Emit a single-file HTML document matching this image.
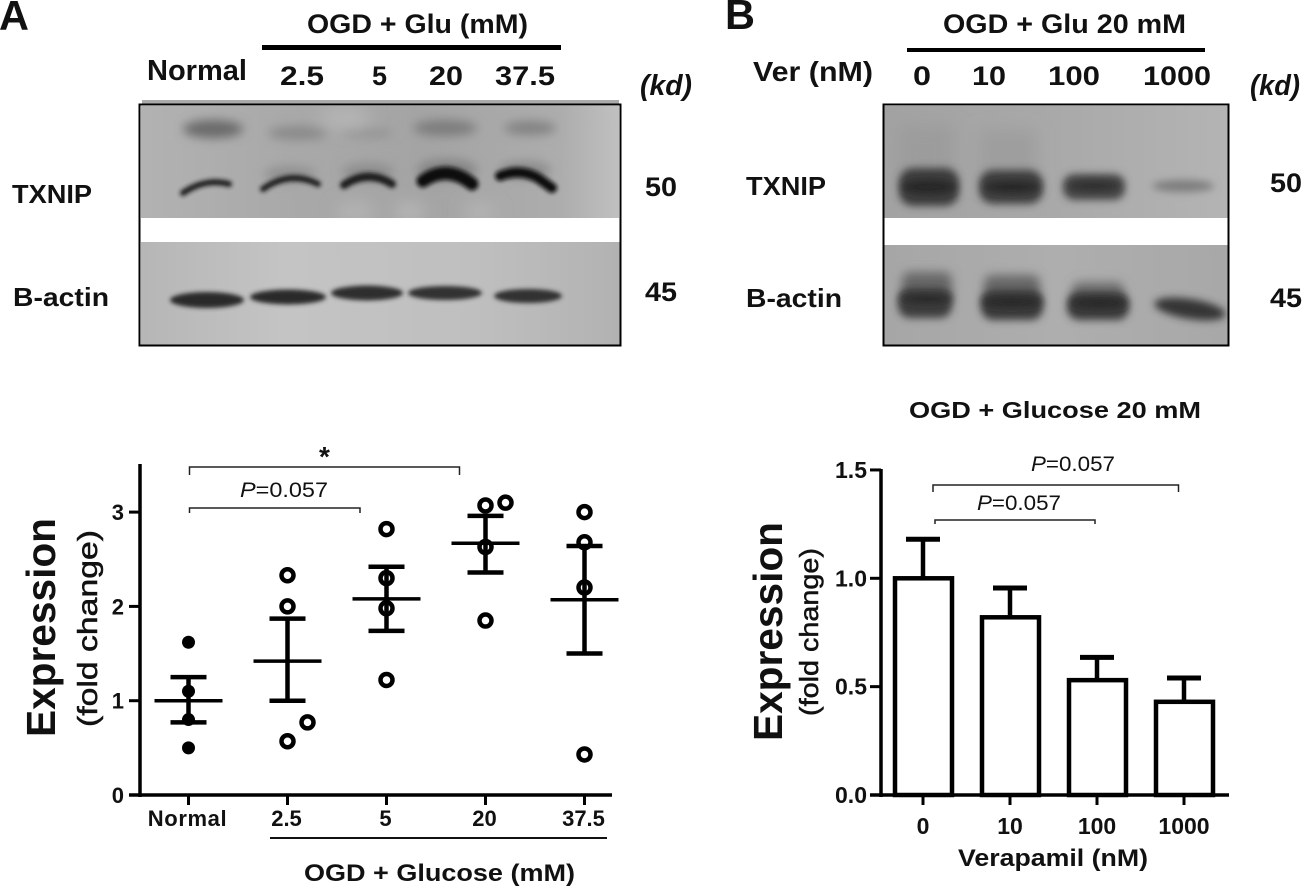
<!DOCTYPE html>
<html>
<head>
<meta charset="utf-8">
<title>TXNIP expression figure</title>
<style>
html,body{margin:0;padding:0;background:#fff;}
#fig{display:block;width:1306px;height:889px;}
text{font-family:"Liberation Sans",sans-serif;fill:#111;}
.b{font-weight:700;}
</style>
</head>
<body>
<svg id="fig" xmlns="http://www.w3.org/2000/svg" width="1306" height="889" viewBox="0 0 1306 889">
<defs>
  <filter id="bl3" x="-30%" y="-80%" width="160%" height="260%"><feGaussianBlur stdDeviation="4"/></filter>
  <filter id="bl2" x="-30%" y="-80%" width="160%" height="260%"><feGaussianBlur stdDeviation="2.2"/></filter>
  <filter id="bl5" x="-30%" y="-80%" width="160%" height="260%"><feGaussianBlur stdDeviation="5"/></filter>
  <filter id="bl8" x="-30%" y="-80%" width="160%" height="260%"><feGaussianBlur stdDeviation="8"/></filter>
  <linearGradient id="lt" x1="0" y1="0" x2="1" y2="0">
    <stop offset="0" stop-color="#b2b2b2"/><stop offset=".3" stop-color="#a9a9a9"/><stop offset=".6" stop-color="#a4a4a4"/><stop offset=".88" stop-color="#adadad"/><stop offset="1" stop-color="#c0c0c0"/>
  </linearGradient>
  <linearGradient id="ll" x1="0" y1="0" x2="1" y2="0">
    <stop offset="0" stop-color="#b6b6b6"/><stop offset=".3" stop-color="#c4c4c4"/><stop offset=".7" stop-color="#bfbfbf"/><stop offset="1" stop-color="#b2b2b2"/>
  </linearGradient>
  <linearGradient id="rt" x1="0" y1="0" x2="1" y2="0">
    <stop offset="0" stop-color="#a2a2a2"/><stop offset=".5" stop-color="#a9a9a9"/><stop offset="1" stop-color="#b4b4b4"/>
  </linearGradient>
  <linearGradient id="rl" x1="0" y1="0" x2="1" y2="0">
    <stop offset="0" stop-color="#a6a6a6"/><stop offset=".5" stop-color="#aeaeae"/><stop offset="1" stop-color="#a8a8a8"/>
  </linearGradient>
  <clipPath id="clipAT"><rect x="141" y="106" width="478" height="112"/></clipPath>
  <clipPath id="clipBT"><rect x="884" y="106" width="344" height="112"/></clipPath>
  <clipPath id="clipBL"><rect x="884" y="245" width="344" height="100"/></clipPath>
</defs>

<!-- Panel A header -->
<text class="b" x="-1" y="30" font-size="42" textLength="30" lengthAdjust="spacingAndGlyphs">A</text>
<text class="b" x="307" y="33" font-size="27" textLength="221" lengthAdjust="spacingAndGlyphs">OGD + Glu (mM)</text>
<rect x="262" y="45" width="299" height="5" fill="#000"/>
<text class="b" x="147" y="80" font-size="29" textLength="100" lengthAdjust="spacingAndGlyphs">Normal</text>
<text class="b" x="280" y="85" font-size="27" textLength="44" lengthAdjust="spacingAndGlyphs">2.5</text>
<text class="b" x="372" y="85" font-size="27" textLength="15" lengthAdjust="spacingAndGlyphs">5</text>
<text class="b" x="429" y="85" font-size="27" textLength="34" lengthAdjust="spacingAndGlyphs">20</text>
<text class="b" x="495" y="85" font-size="27" textLength="60" lengthAdjust="spacingAndGlyphs">37.5</text>
<text class="b" x="640" y="95" font-size="29" font-style="italic" textLength="52" lengthAdjust="spacingAndGlyphs">(kd)</text>

<!-- Blot A -->
<g>
  <rect x="142" y="100" width="477" height="5" fill="#aaa"/>
  <rect x="141" y="106" width="478" height="112" fill="url(#lt)"/>
  <rect x="141" y="242" width="479" height="103" fill="url(#ll)"/>
  <g filter="url(#bl5)" clip-path="url(#clipAT)">
    <ellipse cx="213" cy="129" rx="30" ry="9" fill="#6a6a6a"/>
    <ellipse cx="298" cy="133" rx="30" ry="7" fill="#8a8a8a"/>
    <ellipse cx="368" cy="133" rx="26" ry="5" fill="#949494"/>
    <ellipse cx="445" cy="128" rx="32" ry="8" fill="#7d7d7d"/>
    <ellipse cx="530" cy="128" rx="26" ry="7" fill="#828282"/>
    <ellipse cx="447" cy="170" rx="30" ry="11" fill="#858585"/>
    <ellipse cx="368" cy="172" rx="26" ry="9" fill="#8e8e8e"/>
    <ellipse cx="290" cy="174" rx="26" ry="8" fill="#919191"/>
    <ellipse cx="525" cy="170" rx="26" ry="9" fill="#8c8c8c"/>
  </g>
  <g filter="url(#bl8)" clip-path="url(#clipAT)">
    <ellipse cx="345" cy="118" rx="26" ry="10" fill="#b6b6b6"/>
    <ellipse cx="355" cy="212" rx="20" ry="10" fill="#b4b4b4"/>
    <ellipse cx="410" cy="212" rx="16" ry="10" fill="#b6b6b6"/>
    <ellipse cx="480" cy="212" rx="16" ry="10" fill="#b4b4b4"/>
  </g>
  <g fill="none" stroke-linecap="round" filter="url(#bl2)" clip-path="url(#clipAT)">
    <path d="M183 193 Q205 178 229 184" stroke="#1e1e1e" stroke-width="6"/>
    <path d="M263 189 Q290 170 318 184" stroke="#1e1e1e" stroke-width="6"/>
    <path d="M344 185 Q368 169 392 184" stroke="#1a1a1a" stroke-width="8"/>
    <path d="M423 181 Q447 164 472 184" stroke="#111" stroke-width="13"/>
    <path d="M500 176 Q520 168 538 178 L552 188" stroke="#111" stroke-width="10"/>
  </g>
  <g filter="url(#bl2)">
    <ellipse cx="207" cy="300" rx="37" ry="8" fill="#2a2a2a"/>
    <ellipse cx="288" cy="297" rx="38" ry="7.500" fill="#2c2c2c"/>
    <ellipse cx="367" cy="293" rx="36" ry="7.500" fill="#2e2e2e"/>
    <ellipse cx="445" cy="293" rx="37" ry="7" fill="#323232"/>
    <ellipse cx="528" cy="296" rx="34" ry="7" fill="#323232"/>
  </g>
  <rect x="139.500" y="104.500" width="481" height="241" fill="none" stroke="#000" stroke-width="2"/>
</g>
<text class="b" x="12" y="203" font-size="26" textLength="80" lengthAdjust="spacingAndGlyphs">TXNIP</text>
<text class="b" x="13" y="306" font-size="26" textLength="96" lengthAdjust="spacingAndGlyphs">B-actin</text>
<text class="b" x="645" y="196" font-size="27" textLength="32" lengthAdjust="spacingAndGlyphs">50</text>
<text class="b" x="645" y="301" font-size="27" textLength="32" lengthAdjust="spacingAndGlyphs">45</text>

<!-- Panel B header -->
<text class="b" x="725" y="29" font-size="42" textLength="30" lengthAdjust="spacingAndGlyphs">B</text>
<text class="b" x="943" y="33" font-size="27" textLength="243" lengthAdjust="spacingAndGlyphs">OGD + Glu 20 mM</text>
<rect x="907" y="48" width="298" height="4" fill="#000"/>
<text class="b" x="753" y="81" font-size="28" textLength="120" lengthAdjust="spacingAndGlyphs">Ver (nM)</text>
<text class="b" x="913" y="85" font-size="27" textLength="18" lengthAdjust="spacingAndGlyphs">0</text>
<text class="b" x="972" y="85" font-size="27" textLength="34" lengthAdjust="spacingAndGlyphs">10</text>
<text class="b" x="1048" y="85" font-size="27" textLength="52" lengthAdjust="spacingAndGlyphs">100</text>
<text class="b" x="1143" y="85" font-size="27" textLength="68" lengthAdjust="spacingAndGlyphs">1000</text>
<text class="b" x="1250" y="95" font-size="29" font-style="italic" textLength="50" lengthAdjust="spacingAndGlyphs">(kd)</text>

<!-- Blot B -->
<g>
  <rect x="884" y="106" width="344" height="112" fill="url(#rt)"/>
  <rect x="884" y="245" width="344" height="100" fill="url(#rl)"/>
  <g filter="url(#bl8)" clip-path="url(#clipBT)">
    <rect x="898" y="125" width="56" height="60" fill="#9c9c9c"/>
    <rect x="980" y="130" width="56" height="55" fill="#9e9e9e"/>
  </g>
  <g filter="url(#bl3)" clip-path="url(#clipBT)">
    <rect x="899" y="168" width="60" height="38" rx="14" fill="#3c3c3c"/>
    <rect x="979" y="170" width="64" height="34" rx="14" fill="#404040"/>
    <rect x="1063" y="174" width="62" height="26" rx="11" fill="#474747"/>
    <ellipse cx="1183" cy="186" rx="31" ry="6" fill="#7d7d7d"/>
  </g>
  <g filter="url(#bl5)" clip-path="url(#clipBL)">
    <rect x="902" y="272" width="50" height="30" rx="8" fill="#686868"/>
    <rect x="984" y="275" width="56" height="30" rx="8" fill="#686868"/>
    <rect x="1072" y="282" width="52" height="24" rx="8" fill="#707070"/>
  </g>
  <g filter="url(#bl3)" clip-path="url(#clipBL)">
    <rect x="898" y="288" width="54" height="30" rx="12" fill="#3e3e3e"/>
    <rect x="981" y="290" width="62" height="30" rx="12" fill="#3a3a3a"/>
    <rect x="1067" y="292" width="62" height="28" rx="12" fill="#3a3a3a"/>
    <ellipse cx="1190" cy="309" rx="36" ry="10" fill="#363636" transform="rotate(9 1190 309)"/>
  </g>
  <g filter="url(#bl3)">
    <ellipse cx="929" cy="187" rx="27" ry="7" fill="#262626"/>
    <ellipse cx="1012" cy="187" rx="28" ry="6" fill="#282828"/>
    <ellipse cx="1094" cy="186" rx="26" ry="5" fill="#2d2d2d"/>
    <ellipse cx="926" cy="299" rx="26" ry="4" fill="#262626"/>
    <ellipse cx="1012" cy="302" rx="30" ry="5" fill="#262626"/>
    <ellipse cx="1099" cy="303" rx="28" ry="5" fill="#262626"/>
  </g>
  <rect x="883.500" y="104.500" width="345" height="241" fill="none" stroke="#000" stroke-width="2"/>
</g>
<text class="b" x="746" y="195" font-size="26" textLength="80" lengthAdjust="spacingAndGlyphs">TXNIP</text>
<text class="b" x="746" y="307" font-size="26" textLength="96" lengthAdjust="spacingAndGlyphs">B-actin</text>
<text class="b" x="1270" y="192" font-size="27" textLength="32" lengthAdjust="spacingAndGlyphs">50</text>
<text class="b" x="1270" y="307" font-size="27" textLength="32" lengthAdjust="spacingAndGlyphs">45</text>

<!-- Static chart labels -->
<text class="b" transform="translate(55,737) rotate(-90)" font-size="41" textLength="219" lengthAdjust="spacingAndGlyphs">Expression</text>
<text transform="translate(97,727) rotate(-90)" font-size="28" stroke="#111" stroke-width=".5" textLength="197" lengthAdjust="spacingAndGlyphs">(fold change)</text>
<rect x="270" y="837" width="337" height="2" fill="#111"/>
<text class="b" x="304" y="881" font-size="24" textLength="271" lengthAdjust="spacingAndGlyphs">OGD + Glucose (mM)</text>
<text class="b" x="319" y="466" font-size="28">*</text>
<text x="240" y="497" font-size="21" textLength="88" lengthAdjust="spacingAndGlyphs"><tspan font-style="italic">P</tspan>=0.057</text>

<text class="b" x="909" y="418" font-size="23" textLength="292" lengthAdjust="spacingAndGlyphs">OGD + Glucose 20 mM</text>
<text class="b" transform="translate(782,741) rotate(-90)" font-size="41" textLength="219" lengthAdjust="spacingAndGlyphs">Expression</text>
<text transform="translate(818,716) rotate(-90)" font-size="26" stroke="#111" stroke-width=".5" textLength="168" lengthAdjust="spacingAndGlyphs">(fold change)</text>
<text class="b" x="958" y="866" font-size="24" textLength="190" lengthAdjust="spacingAndGlyphs">Verapamil (nM)</text>
<text x="1031" y="471" font-size="21" textLength="84" lengthAdjust="spacingAndGlyphs"><tspan font-style="italic">P</tspan>=0.057</text>
<text x="977" y="510" font-size="21" textLength="84" lengthAdjust="spacingAndGlyphs"><tspan font-style="italic">P</tspan>=0.057</text>

<g id="chartA"></g>
<g id="chartB"></g>
</svg>

<script>
// Scatter chart (panel A)
var scatterCategories = ['Normal', '2.5', '5', '20', '37.5'];
var scatterTicks = [0, 1, 2, 3];
var scatterPoints = [
  [1.62, 1.10, 0.80, 0.50],
  [2.33, 2.00, 0.77, 0.57],
  [2.82, 2.30, 1.98, 1.22],
  [3.07, 3.10, 2.63, 1.85],
  [3.00, 2.68, 2.20, 0.43]
];
var scatterMeans = [1.00, 1.42, 2.08, 2.67, 2.07];
var scatterUpper = [1.25, 1.87, 2.42, 2.96, 2.64];
var scatterLower = [0.77, 1.00, 1.74, 2.36, 1.50];

// Bar chart (panel B)
var barCategories = ['0', '10', '100', '1000'];
var barTicks = ['0.0', '0.5', '1.0', '1.5'];
var barValues = [1.00, 0.82, 0.53, 0.43];
var barErrorTops = [1.18, 0.955, 0.635, 0.54];

var NS = 'http://www.w3.org/2000/svg';
function mk(parent, tag, attrs) {
  var el = document.createElementNS(NS, tag);
  for (var k in attrs) el.setAttribute(k, attrs[k]);
  parent.appendChild(el);
  return el;
}
function ln(parent, x1, y1, x2, y2, w) {
  return mk(parent, 'line', {x1: x1, y1: y1, x2: x2, y2: y2, stroke: '#000', 'stroke-width': w});
}

// ---- Panel A ----
var gA = document.getElementById('chartA');
function ax(i) { return 188.5 + i * 99; }
function ay(v) { return 795 - v * 94.3; }

var aYAxis = ln(gA, 140, 464, 140, 797, 3.500);


var aXAxis = ln(gA, 129, ay(0), 612, ay(0), 3.500);



scatterTicks.forEach(function (t) {
  var tick = ln(gA, 129, ay(t), 140, ay(t), 3);
  
  
  var lab = mk(gA, 'text', {x: 124, y: ay(t) + 8, 'font-size': 22, 'text-anchor': 'end', 'class': 'b'});
  lab.textContent = t;
  
  
});

scatterCategories.forEach(function (c, i) {
  var tick = ln(gA, ax(i), ay(0), ax(i), ay(0) + 10, 3);
  
  
  var lab = mk(gA, 'text', {x: ax(i) - 1, y: 826, 'font-size': 22, 'text-anchor': 'middle', 'class': 'b', 'letter-spacing': i === 0 ? '0.6' : '0'});
  lab.textContent = c;
  
  

  var err = mk(gA, 'g', {});
  
  
  ln(err, ax(i), ay(scatterUpper[i]), ax(i), ay(scatterLower[i]), 4.500);
  ln(err, ax(i) - 18, ay(scatterUpper[i]), ax(i) + 18, ay(scatterUpper[i]), 4.500);
  ln(err, ax(i) - 18, ay(scatterLower[i]), ax(i) + 18, ay(scatterLower[i]), 4.500);

  var mean = ln(gA, ax(i) - 34, ay(scatterMeans[i]), ax(i) + 34, ay(scatterMeans[i]), 3.500);
  
  

  scatterPoints[i].forEach(function (v, j) {
    var dx = 0;
    if (i === 1 && j === 2) dx = 20;
    if (i === 3 && j === 1) dx = 20;
    var filled = i === 0;
    var pt = mk(gA, 'circle', {
      cx: ax(i) + dx,
      cy: ay(v),
      r: filled ? 6.5 : 6,
      fill: filled ? '#000' : 'none',
      stroke: '#000',
      'stroke-width': filled ? 0 : 4.500
    });
    
    
  });
});

var aBr1 = mk(gA, 'path', {d: 'M189.500 475 V467 H459.500 V475', fill: 'none', stroke: '#222', 'stroke-width': 1.500});


var aBr2 = mk(gA, 'path', {d: 'M189.500 513 V508 H360 V513', fill: 'none', stroke: '#222', 'stroke-width': 1.500});



// ---- Panel B ----
var gB = document.getElementById('chartB');
function bx(i) { return 923 + i * 87; }
function by(v) { return 795 - v * 216.7; }

barCategories.forEach(function (c, i) {
  var h = by(barValues[i]);
  var err = mk(gB, 'g', {});
  
  
  ln(err, bx(i), h, bx(i), by(barErrorTops[i]), 4.500);
  ln(err, bx(i) - 17, by(barErrorTops[i]), bx(i) + 17, by(barErrorTops[i]), 5);

  var bar = mk(gB, 'rect', {x: bx(i) - 28, y: h, width: 57, height: 795 - h, fill: '#fff', stroke: '#000', 'stroke-width': 4.500});
  
  

  var tick = ln(gB, bx(i), 795, bx(i), 805, 3);
  
  
  var lab = mk(gB, 'text', {x: bx(i), y: 834, 'font-size': 23, 'text-anchor': 'middle', 'class': 'b'});
  lab.textContent = c;
  
  
});

var bYAxis = ln(gB, 881, 469, 881, 797, 3.500);


var bXAxis = ln(gB, 870, 795, 1229, 795, 3.500);



barTicks.forEach(function (t) {
  var v = parseFloat(t);
  var tick = ln(gB, 870, by(v), 881, by(v), 3);
  
  
  var lab = mk(gB, 'text', {x: 867, y: by(v) + 8, 'font-size': 23, 'text-anchor': 'end', 'class': 'b'});
  lab.textContent = t;
  
  
});

var bBr1 = mk(gB, 'path', {d: 'M933 492 V485 H1178.500 V492', fill: 'none', stroke: '#222', 'stroke-width': 1.500});


var bBr2 = mk(gB, 'path', {d: 'M935 524 V520 H1095 V524', fill: 'none', stroke: '#222', 'stroke-width': 1.500});


</script>
</body>
</html>
